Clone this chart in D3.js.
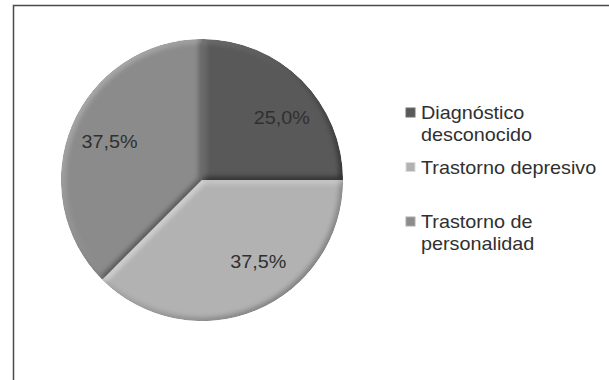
<!DOCTYPE html>
<html>
<head>
<meta charset="utf-8">
<script src="https://cdn.jsdelivr.net/npm/d3@7"></script>
<style>
  html, body { margin: 0; padding: 0; background: #fff; }
  svg { display: block; }
  text { font-family: "Liberation Sans", Arial, sans-serif; fill: #303030; }
</style>
</head>
<body>
<svg id="chart" width="609" height="380"></svg>
<script>
// Diagnoses and their share of cases (percent)
const categories = ["Diagnóstico desconocido", "Trastorno depresivo", "Trastorno de personalidad"];
const shares = [25.0, 37.5, 37.5];
const sliceColors = ["#595959", "#b2b2b2", "#8b8b8b"];

const W = 609, H = 380;
const cx = 202, cy = 180, R = 141;
const fontSize = 18, stretch = 1.1;

const svg = d3.select("#chart");

// soft bevel shading applied to every slice
const defs = svg.append("defs");
const f = defs.append("filter").attr("id", "bevel")
  .attr("x", "-5%").attr("y", "-5%").attr("width", "110%").attr("height", "110%")
  .attr("color-interpolation-filters", "sRGB");
f.append("feGaussianBlur").attr("in", "SourceAlpha").attr("stdDeviation", 3).attr("result", "blur");
f.append("feDiffuseLighting").attr("in", "blur").attr("surfaceScale", 2)
  .attr("diffuseConstant", 1).attr("lighting-color", "#fff").attr("result", "light")
  .append("feDistantLight").attr("azimuth", 225).attr("elevation", 45);
f.append("feComposite").attr("in", "SourceGraphic").attr("in2", "light")
  .attr("operator", "arithmetic").attr("k1", 0).attr("k2", 1).attr("k3", 0.45).attr("k4", -0.3182)
  .attr("result", "lit");
f.append("feComposite").attr("in", "lit").attr("in2", "SourceAlpha").attr("operator", "in");

// chart frame (only the top and left edges fall inside the page)
svg.append("rect")
  .attr("x", 13.5).attr("y", 5.5).attr("width", W).attr("height", H)
  .attr("fill", "none").attr("stroke", "#4a4a4a").attr("stroke-width", 1.5);

const color = d3.scaleOrdinal().domain(categories).range(sliceColors);
const pie = d3.pie().sort(null).value(d => d.value);
const data = categories.map((c, i) => ({ name: c, value: shares[i] }));
const arcs = pie(data);
const total = d3.sum(shares);

const arc = d3.arc().innerRadius(0).outerRadius(R);
const labelArc = d3.arc().innerRadius(R * 0.71).outerRadius(R * 0.71);

const g = svg.append("g").attr("transform", `translate(${cx},${cy})`);
g.selectAll("path.slice")
  .data(arcs)
  .join("path")
  .attr("class", "slice")
  .attr("d", arc)
  .attr("fill", d => color(d.data.name))
  .attr("filter", "url(#bevel)");

// Spanish number formatting: decimal comma
const es = d3.formatLocale({ decimal: ",", thousands: ".", grouping: [3], currency: ["", " €"] });
const pct = es.format(".1%");

// best-fit nudges for the percentage labels
const labelNudge = [[9, 8], [18, -11], [0, 0]];

g.selectAll("text.pct")
  .data(arcs)
  .join("text")
  .attr("class", "pct")
  .attr("transform", (d, i) => {
    const [x, y] = labelArc.centroid(d);
    return `translate(${x + labelNudge[i][0]},${y + labelNudge[i][1]}) scale(${stretch},1)`;
  })
  .attr("text-anchor", "middle")
  .attr("dy", "0.35em")
  .attr("font-size", fontSize)
  .text(d => pct(d.data.value / total));

// legend
const legX = 406, textX = 421, legTop = 119, entryStep = 54.5, lineH = 22, wrapW = 185;
const legend = svg.append("g");
categories.forEach((name, i) => {
  const y0 = legTop + i * entryStep;
  legend.append("rect")
    .attr("x", legX).attr("y", y0 - 11).attr("width", 9).attr("height", 9)
    .attr("fill", color(name))
    .attr("stroke", d3.color(color(name)).brighter(0.6)).attr("stroke-width", 1);

  // wrap words to the legend width
  const words = name.split(" ");
  const lines = [];
  let cur = "";
  const probe = legend.append("text").attr("font-size", fontSize);
  words.forEach(w => {
    const test = cur ? cur + " " + w : w;
    probe.text(test);
    if (cur && probe.node().getComputedTextLength() * stretch > wrapW) {
      lines.push(cur);
      cur = w;
    } else {
      cur = test;
    }
  });
  lines.push(cur);
  probe.remove();

  lines.forEach((ln, k) => {
    legend.append("text")
      .attr("transform", `translate(${textX},${y0 + k * lineH}) scale(${stretch},1)`)
      .attr("font-size", fontSize)
      .text(ln);
  });
});
</script>
</body>
</html>
